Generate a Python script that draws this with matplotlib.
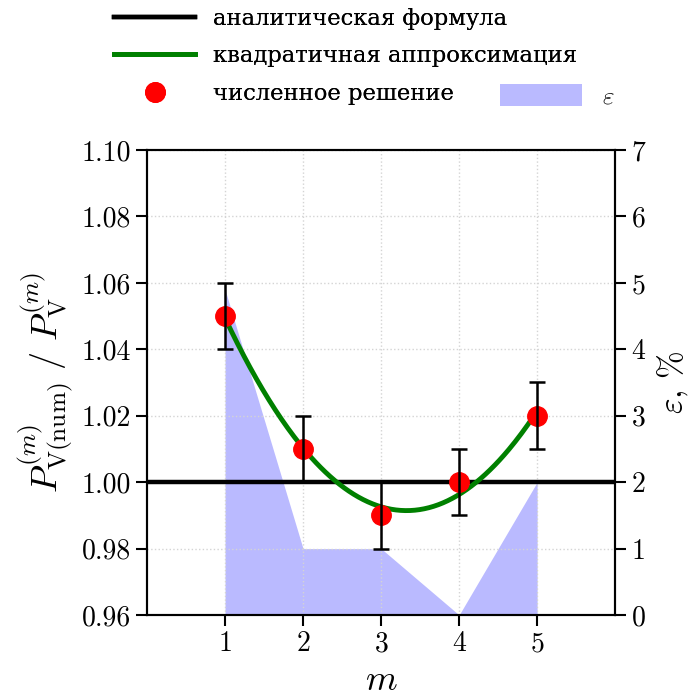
import numpy as np
import matplotlib
matplotlib.use("Agg")
import matplotlib.pyplot as plt
from matplotlib.lines import Line2D
from matplotlib.patches import Patch

# data
m = [1, 2, 3, 4, 5]
ratio = [1.05, 1.01, 0.99, 1.00, 1.02]
ratio_err = [0.01, 0.01, 0.01, 0.01, 0.01]
eps = [4.9, 1.0, 1.0, 0.0, 2.0]

plt.rcParams['mathtext.fontset'] = 'cm'
plt.rcParams['font.family'] = ['DejaVu Serif']
plt.rcParams['axes.formatter.use_mathtext'] = True

fig = plt.figure(figsize=(6.92, 6.99), dpi=100)
ax = fig.add_axes([0.2124, 0.1202, 0.889 - 0.2124, 0.7854 - 0.1202])
ax2 = ax.twinx()
ax.set_zorder(ax2.get_zorder() + 1)
ax.patch.set_visible(False)

# error band on the right axis
ax2.fill_between(m, eps, 0, color='blue', alpha=0.27, linewidth=0)
ax2.set_ylim(0, 7)
ax2.set_yticks(range(0, 8))
ax2.set_ylabel(r'$\varepsilon$, %', fontsize=24, family='cmr10', labelpad=6)

# quadratic fit of the numerical points
coef = np.polyfit(m, ratio, 2)
xs = np.linspace(1, 5, 200)
ax.axhline(1.0, color='black', lw=3.2, zorder=2)
ax.plot(xs, np.polyval(coef, xs), color='green', lw=3.5, zorder=3)
ax.errorbar(m, ratio, yerr=ratio_err, fmt='none', ecolor='black',
            elinewidth=1.8, capsize=6, capthick=1.8, zorder=4)
ax.plot(m, ratio, 'o', color='red', ms=14, zorder=3.5)

ax.set_xlim(0, 6)
ax.set_ylim(0.96, 1.10)
ax.set_xticks(m)
ax.set_yticks(np.arange(0.96, 1.1001, 0.02))
ax.set_yticklabels(['%.2f' % v for v in np.arange(0.96, 1.1001, 0.02)])
ax.grid(True, linestyle=':', color='#d4d4d4', lw=1)
ax.set_xlabel(r'$m$', fontsize=26)
ax.set_ylabel(r'$P^{(m)}_{\mathrm{V(num)}}\ /\ P^{(m)}_{\mathrm{V}}$', fontsize=26)

for a in (ax, ax2):
    a.tick_params(labelsize=20, length=8, width=1.5, direction='out')
    for lab in a.get_xticklabels() + a.get_yticklabels():
        lab.set_family('cmr10')
    for s in a.spines.values():
        s.set_linewidth(1.5)

handles = [Line2D([], [], color='black', lw=3.2),
           Line2D([], [], color='green', lw=3.5),
           Line2D([], [], linestyle='none', marker='o', color='red', ms=14)]
labels = ['аналитическая формула', 'квадратичная аппроксимация',
          'численное решение']
leg1 = fig.legend(handles, labels, loc='upper left', bbox_to_anchor=(0.135, 1.018),
                  frameon=False, fontsize=16.3, handlelength=3.6, labelspacing=0.68)
fig.add_artist(leg1)
fig.legend([Patch(facecolor='blue', alpha=0.27, edgecolor='none')], [r'$\varepsilon$'],
           loc='upper left', bbox_to_anchor=(0.69, 0.912),
           frameon=False, fontsize=18, handlelength=3.3, handleheight=1.0)

fig.savefig('out.png', dpi=100)
